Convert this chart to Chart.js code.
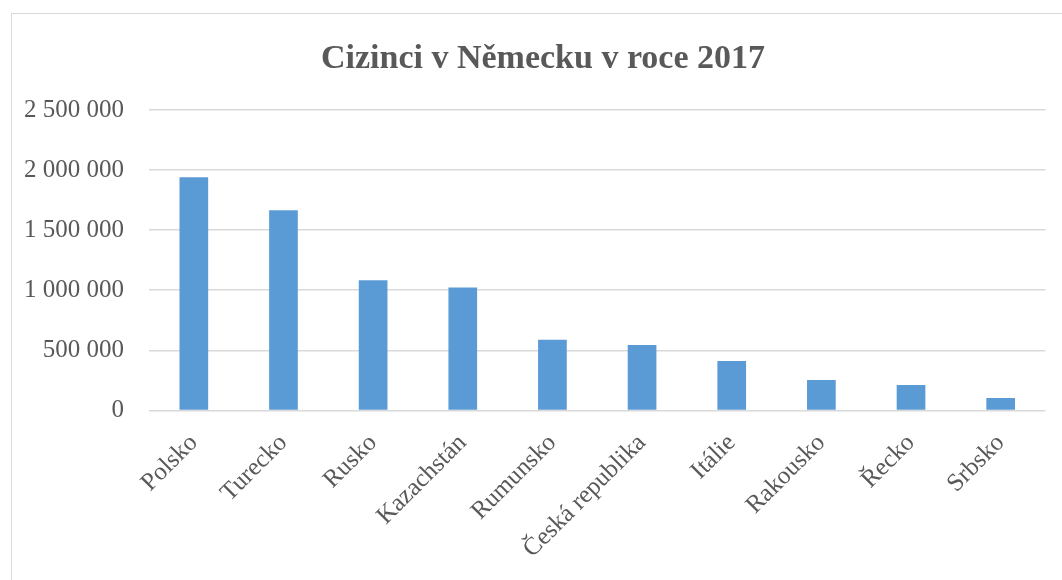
<!DOCTYPE html>
<html>
<head>
<meta charset="utf-8">
<script src="https://cdn.jsdelivr.net/npm/chart.js@4/dist/chart.umd.min.js"></script>
<style>
html,body{margin:0;padding:0;background:#fff;overflow:hidden;width:1062px;height:580px;}
#box{position:absolute;left:11px;top:13px;width:1064px;height:600px;border:1px solid #d9d9d9;box-sizing:border-box;}
#wrap{position:absolute;left:0;top:0;width:1062px;height:598px;}
</style>
</head>
<body>
<div id="box"><div id="wrap"><canvas id="c"></canvas></div></div>
<script>
const categories = ["Polsko","Turecko","Rusko","Kazachstán","Rumunsko","Česká republika","Itálie","Rakousko","Řecko","Srbsko"];
const values = [1940000,1665000,1083000,1022000,587000,545000,412000,253000,212000,103000];
const yTicks = [0,500000,1000000,1500000,2000000,2500000];
const titleText = "Cizinci v Německu v roce 2017";

function fmt(v){return String(v).replace(/\B(?=(\d{3})+(?!\d))/g,"\u00a0");}

const titlePlugin = {
  id:'customTitle',
  afterDraw(chart){
    const ctx = chart.ctx;
    ctx.save();
    ctx.font = 'bold 34px "Liberation Serif", serif';
    ctx.fillStyle = '#595959';
    ctx.textAlign = 'center';
    ctx.textBaseline = 'alphabetic';
    ctx.fillText(titleText, 531, 54);
    ctx.restore();
  }
};

new Chart(document.getElementById('c'),{
  type:'bar',
  data:{labels:categories,datasets:[{data:values,backgroundColor:'#5B9BD5',borderWidth:0,categoryPercentage:1,barPercentage:0.32}]},
  plugins:[titlePlugin],
  options:{
    responsive:true,maintainAspectRatio:false,animation:false,
    layout:{padding:{left:-13,right:28.5,top:96,bottom:38}},
    plugins:{legend:{display:false},tooltip:{enabled:false},title:{display:false}},
    scales:{
      x:{grid:{display:false},border:{display:false},
         ticks:{color:'#595959',font:{family:'"Liberation Serif", serif',size:25},minRotation:45,maxRotation:45,padding:10}},
      y:{min:0,max:2500000,afterBuildTicks:(s)=>{s.ticks=yTicks.map(v=>({value:v}));},
         grid:{color:'#d9d9d9',lineWidth:1.5,drawTicks:false},border:{display:false},
         ticks:{color:'#595959',font:{family:'"Liberation Serif", serif',size:25},padding:25,callback:(v)=>fmt(v)}}
    }
  }
});
</script>
</body>
</html>
